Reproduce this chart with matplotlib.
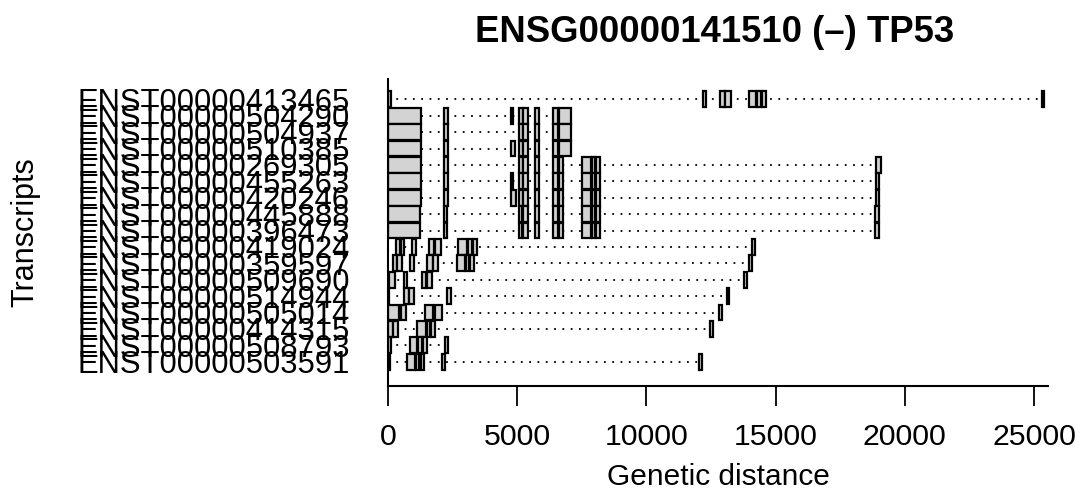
import matplotlib
matplotlib.use("Agg")
import matplotlib.pyplot as plt
from matplotlib.patches import Rectangle

# transcripts, top to bottom
transcripts = ["ENST00000413465", "ENST00000504290", "ENST00000504937", "ENST00000510385",
               "ENST00000269305", "ENST00000455263", "ENST00000420246", "ENST00000445888",
               "ENST00000396473", "ENST00000419024", "ENST00000359597", "ENST00000509690",
               "ENST00000514944", "ENST00000505014", "ENST00000414315", "ENST00000508793",
               "ENST00000503591"]

# exon starts / ends (bp from gene start)
exon_starts = [
    [0, 12180, 12850, 13050, 13970, 14280, 14470, 25300],
    [0, 2170, 4750, 5070, 5240, 5690, 6400, 6620],
    [0, 2170, 5070, 5240, 5690, 6400, 6620],
    [0, 2170, 4750, 5070, 5240, 5690, 6400, 6620],
    [0, 2170, 5070, 5240, 5690, 6400, 6620, 7520, 7880, 8050, 18870],
    [0, 2170, 4750, 5070, 5240, 5690, 6400, 6620, 7520, 7880, 8050, 18870],
    [0, 2170, 4750, 5070, 5240, 5690, 6400, 6620, 7520, 7880, 8050, 18870],
    [0, 2150, 5050, 5240, 5690, 6380, 6620, 7520, 7880, 8050, 18850],
    [0, 2150, 5050, 5240, 5690, 6380, 6620, 7520, 7880, 8050, 18850],
    [300, 500, 916, 1600, 1820, 2720, 3110, 3280, 14100],
    [180, 360, 850, 1520, 1755, 2660, 3020, 3175, 13980],
    [40, 620, 1300, 1520, 13790],
    [0, 620, 830, 2270, 13110],
    [0, 490, 1430, 1820, 12790],
    [0, 205, 1135, 1500, 1650, 12460],
    [0, 850, 1175, 1340, 2205],
    [0, 720, 1085, 1265, 2080, 12050],
]
exon_ends = [
    [100, 12300, 13040, 13260, 14240, 14440, 14630, 25390],
    [1275, 2330, 4850, 5210, 5430, 5860, 6590, 7070],
    [1275, 2330, 5210, 5430, 5860, 6590, 7070],
    [1275, 2330, 4920, 5210, 5430, 5860, 6590, 7070],
    [1275, 2330, 5210, 5430, 5860, 6590, 6790, 7840, 8010, 8200, 19080],
    [1275, 2330, 4850, 5210, 5430, 5860, 6590, 6790, 7840, 8010, 8200, 19000],
    [1275, 2330, 4950, 5210, 5430, 5860, 6590, 6790, 7840, 8010, 8200, 19000],
    [1240, 2290, 5200, 5400, 5860, 6560, 6790, 7840, 8010, 8200, 18990],
    [1240, 2290, 5200, 5400, 5860, 6560, 6790, 7840, 8010, 8200, 18990],
    [480, 620, 1070, 1780, 2040, 3070, 3240, 3430, 14200],
    [335, 530, 1005, 1730, 1950, 2980, 3150, 3330, 14080],
    [270, 750, 1470, 1690, 13880],
    [50, 800, 1005, 2425, 13200],
    [440, 700, 1755, 2080, 12910],
    [180, 400, 1470, 1625, 1820, 12580],
    [100, 1135, 1300, 1500, 2335],
    [75, 1045, 1215, 1395, 2205, 12150],
]
x_ticks = [0, 5000, 10000, 15000, 20000, 25000]
gene_len = 25540

plt.rcParams['font.family'] = ['Liberation Sans', 'DejaVu Sans']

W, H, DPI = 1081, 492, 100
fig = plt.figure(figsize=(W / DPI, H / DPI), dpi=DPI)
ax = fig.add_axes([388 / W, 1 - 386 / H, 660 / W, 307 / H])

n = len(transcripts)
for i, (st, en) in enumerate(zip(exon_starts, exon_ends)):
    y = n - i
    # intron line behind the exons
    ax.plot([min(st), max(en)], [y, y], color='black', lw=1.3,
            linestyle=(0, (1, 3.6)), zorder=1)
    for s, e in zip(st, en):
        ax.add_patch(Rectangle((s, y - 0.48), e - s, 0.96, facecolor='#d3d3d3',
                               edgecolor='black', lw=1.6, zorder=2))

ax.set_xlim(0, gene_len)
ax.set_ylim(-0.48, 18.24)

ax.spines['top'].set_visible(False)
ax.spines['right'].set_visible(False)
ax.spines['left'].set_linewidth(1.5)
ax.spines['bottom'].set_linewidth(1.5)

ax.set_xticks(x_ticks)
ax.set_xticklabels([str(t) for t in x_ticks])
ax.tick_params(axis='x', length=14.4, width=1.3, pad=12.5, labelsize=21.8)

ax.set_yticks(list(range(n, 0, -1)))
ax.set_yticklabels(transcripts)
ax.tick_params(axis='y', length=0, pad=27.4, labelsize=22.3)

ax.set_xlabel("Genetic distance", fontsize=21.5, va='baseline')
ax.xaxis.set_label_coords(0.5, (386 - 485) / 307)

fig.text(25 / W, 1 - 232.5 / H, "Transcripts", rotation=90, ha='center',
         va='center', fontsize=22)
fig.text(715 / W, 1 - 42 / H, "ENSG00000141510 (\u2013) TP53", ha='center',
         va='baseline', fontsize=26.3, fontweight='bold')

fig.savefig("out.png", dpi=DPI)
